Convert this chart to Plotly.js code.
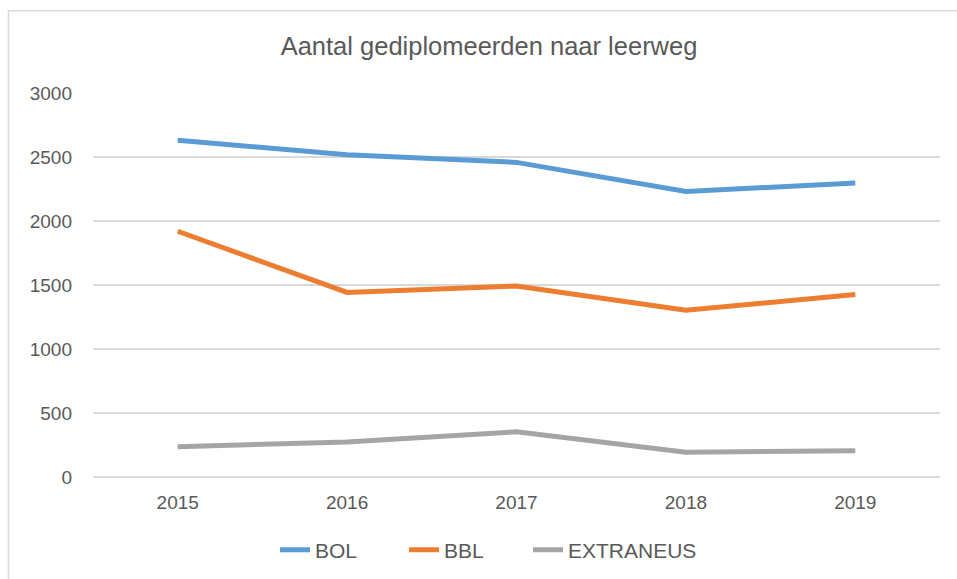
<!DOCTYPE html>
<html>
<head>
<meta charset="utf-8">
<script src="https://cdn.plot.ly/plotly-3.0.1.min.js"></script>
<style>
html,body{margin:0;padding:0;background:#fff;}
#chart{width:957px;height:579px;}
</style>
</head>
<body>
<div id="chart"></div>
<script>
const years = ['2015', '2016', '2017', '2018', '2019'];
const bol = [2630, 2518, 2458, 2231, 2297];
const bbl = [1920, 1442, 1492, 1302, 1425];
const extraneus = [237, 273, 353, 193, 205];
const seriesNames = ['BOL', 'BBL', 'EXTRANEUS'];
const seriesColors = ['#5B9BD5', '#ED7D31', '#A5A5A5'];
const yTicks = [0, 500, 1000, 1500, 2000, 2500, 3000];

const font = {family: 'Liberation Sans, Arial, sans-serif', color: '#595959'};
const legendIds = ['legend', 'legend2', 'legend3'];
const legendX = [0.2149, 0.3672, 0.5136];
const data = [bol, bbl, extraneus].map((vals, i) => ({
  type: 'scatter', mode: 'lines', x: years, y: vals, name: seriesNames[i],
  legend: legendIds[i],
  line: {color: seriesColors[i], width: 5}
}));

const layout = {
  width: 957, height: 579,
  margin: {l: 93, r: 17, t: 93.3, b: 101.7},
  paper_bgcolor: '#fff', plot_bgcolor: '#fff',
  font: Object.assign({size: 19}, font),
  title: {text: 'Aantal gediplomeerden naar leerweg', x: 0.511, xanchor: 'center', y: 0.92, yanchor: 'middle',
          font: Object.assign({size: 25.5}, font)},
  xaxis: {type: 'category', range: [-0.5, 4.5], showgrid: false, zeroline: false, showline: false, ticks: '',
          ticklabelstandoff: 12, tickfont: Object.assign({size: 19}, font), fixedrange: true, automargin: false},
  yaxis: {range: [0, 3000], tickvals: yTicks, ticktext: yTicks.map(String), showgrid: true,
          gridcolor: '#d9d9d9', gridwidth: 1.5, zeroline: true, zerolinecolor: '#d9d9d9', zerolinewidth: 1.5,
          showline: false, ticks: '', ticklabelstandoff: 20, tickfont: Object.assign({size: 19}, font), fixedrange: true, automargin: false},
  showlegend: true,
  shapes: [{type: 'rect', xref: 'paper', yref: 'paper', x0: -0.0998, x1: 1.03, y0: -0.28, y1: 1.2143,
            line: {color: '#d9d9d9', width: 1.5}, fillcolor: 'rgba(0,0,0,0)', layer: 'below'}]
};
legendIds.forEach((id, i) => {
  layout[id] = {orientation: 'h', x: legendX[i], xanchor: 'left', yref: 'container', y: 0.05, yanchor: 'middle',
                font: Object.assign({size: 21}, font), itemwidth: 30, bgcolor: 'rgba(0,0,0,0)'};
});
Plotly.newPlot('chart', data, layout, {displayModeBar: false, staticPlot: true});
</script>
</body>
</html>
